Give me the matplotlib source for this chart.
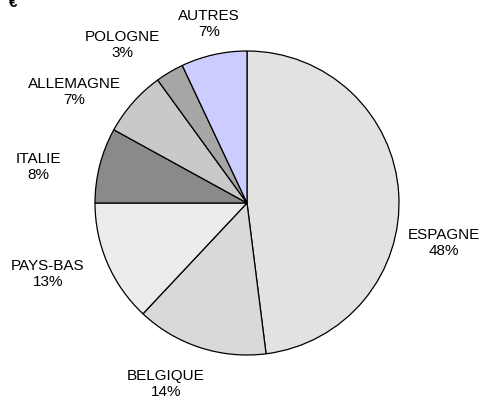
import numpy as np
import matplotlib
matplotlib.use("Agg")
import matplotlib.pyplot as plt

# Share by country (%)
countries = ["ESPAGNE", "BELGIQUE", "PAYS-BAS", "ITALIE", "ALLEMAGNE", "POLOGNE", "AUTRES"]
shares = [48, 14, 13, 8, 7, 3, 7]

colors = ["#e2e2e2", "#d9d9d9", "#ececec", "#8a8a8a", "#c9c9c9", "#a6a6a6", "#ccccff"]
# label centres, pixel coords from the top-left of the figure (layout only)
label_xy = [(444, 243), (166, 384), (48, 274), (38, 167), (74, 92), (122, 45), (209, 24)]

plt.rcParams['font.family'] = ['Liberation Sans', 'DejaVu Sans']

W, H = 485, 401
fig = plt.figure(figsize=(W / 100, H / 100), dpi=100)
ax = fig.add_axes([0, 0, 1, 1])

ax.pie(shares, colors=colors, startangle=90, counterclock=False,
       center=(247, H - 203), radius=152,
       wedgeprops=dict(edgecolor="black", linewidth=0.9))
ax.set_xlim(0, W)
ax.set_ylim(0, H)
ax.set_aspect("equal")
ax.axis("off")

for name, val, (x, y) in zip(countries, shares, label_xy):
    ax.text(x, H - y, f"{name}\n{val}%", ha="center", va="center",
            multialignment="center", fontsize=11, linespacing=1.2)

# title is cut off by the top of the picture, only the euro sign shows
fig.text(13 / W, 1 - 7 / H, "€", fontsize=11, fontweight="bold",
         ha="center", va="baseline")

fig.savefig("out.png", dpi=100)
